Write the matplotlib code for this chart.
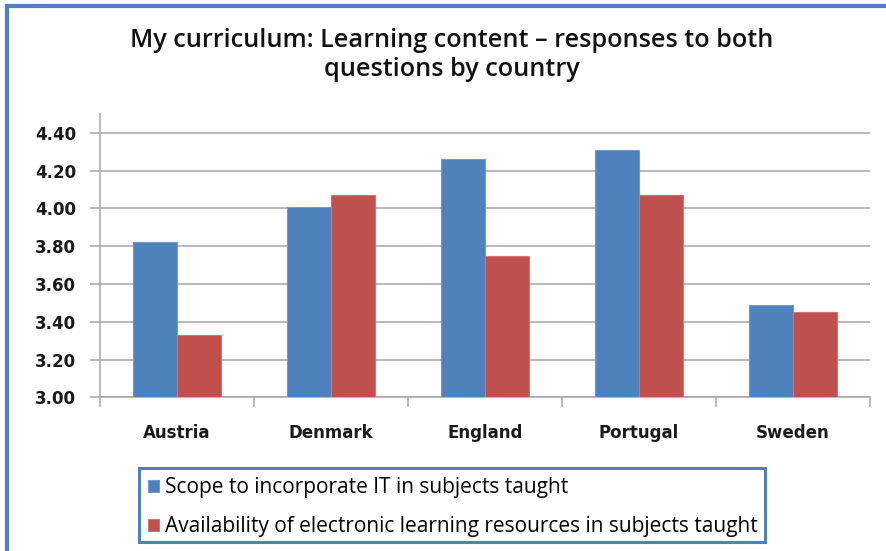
import numpy as np
import matplotlib
matplotlib.use("Agg")
import matplotlib.pyplot as plt
from matplotlib.patches import Rectangle

# chart data
countries = ["Austria", "Denmark", "England", "Portugal", "Sweden"]
scope_it = [3.82, 4.01, 4.26, 4.31, 3.49]
availability = [3.33, 4.07, 3.75, 4.07, 3.45]
series_labels = ["Scope to incorporate IT in subjects taught",
                 "Availability of electronic learning resources in subjects taught"]
y_ticks = [3.0, 3.2, 3.4, 3.6, 3.8, 4.0, 4.2, 4.4]

BLUE = "#4F81BD"
RED = "#C0504D"
GRID = "#A6A6A6"

fig = plt.figure(figsize=(8.86, 5.51), dpi=100)
ax = fig.add_axes([0.1125, 0.2789, 0.8694, 0.5142])

x = np.arange(len(countries))
w = 0.285
b1 = ax.bar(x - w / 2, scope_it, w, color=BLUE, edgecolor="#6F9AD0",
            linewidth=0.8, zorder=3)
b2 = ax.bar(x + w / 2, availability, w, color=RED, edgecolor="#D27471",
            linewidth=0.8, zorder=3)

ax.set_ylim(3.0, 4.5)
ax.set_xlim(-0.5, len(countries) - 0.5)
ax.set_yticks(y_ticks)
ax.set_yticklabels([f"{v:.2f}" for v in y_ticks])
ax.yaxis.grid(True, color=GRID, linewidth=1.1, zorder=0)
ax.set_axisbelow(True)

ax.set_xticks(x)
ax.set_xticklabels(countries)
ax.set_xticks(np.arange(len(countries) + 1) - 0.5, minor=True)
ax.tick_params(axis="x", which="major", length=0, pad=19)
ax.tick_params(axis="x", which="minor", length=7, color=GRID, width=1.1)
ax.tick_params(axis="y", length=7, color=GRID, width=1.1, pad=10)

for lab in ax.get_xticklabels() + ax.get_yticklabels():
    lab.set_fontfamily("DejaVu Sans")
    lab.set_fontweight("bold")
    lab.set_fontsize(12)
    lab.set_color("#1a1a1a")

for s in ["top", "right"]:
    ax.spines[s].set_visible(False)
for s in ["left", "bottom"]:
    ax.spines[s].set_color(GRID)
    ax.spines[s].set_linewidth(1.1)

# title
fig.text(451.5 / 886, 1 - 55 / 551,
         "My curriculum: Learning content \u2013 responses to both\nquestions by country",
         ha="center", va="center", fontsize=18.2, fontfamily="Open Sans",
         fontweight="semibold", linespacing=1.2, color="#111111")

# legend with its own blue box
fig.legend([b1, b2], series_labels, loc="upper left",
           bbox_to_anchor=(148 / 886, 1 - 477 / 551), frameon=False,
           prop={"family": "Open Sans", "size": 15}, handlelength=0.52,
           handleheight=0.52, handletextpad=0.28, labelspacing=0.88,
           borderaxespad=0, borderpad=0)
fig.patches.append(Rectangle((139.3 / 886, 1 - 542.3 / 551), 625.7 / 886, 74.6 / 551,
                             transform=fig.transFigure, fill=False,
                             edgecolor=BLUE, linewidth=2.2))

# outer chart border (right and bottom edges lie outside the picture)
fig.patches.append(Rectangle((7 / 886, -0.1), 1.2, 1 - 5.5 / 551 + 0.1,
                             transform=fig.transFigure, fill=False,
                             edgecolor=BLUE, linewidth=3, clip_on=False))

fig.savefig("out.png", dpi=100)
